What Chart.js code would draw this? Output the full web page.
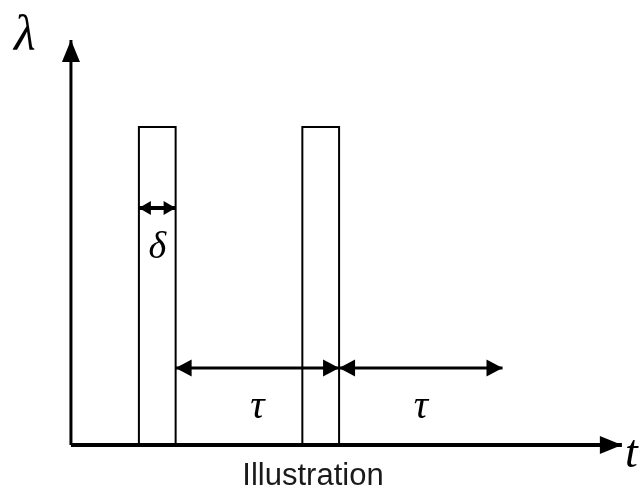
<!DOCTYPE html>
<html>
<head>
<meta charset="utf-8">
<script src="https://cdn.jsdelivr.net/npm/chart.js@4"></script>
<style>
html,body{margin:0;padding:0;background:#fff;}
#wrap{width:643px;height:492px;}
</style>
</head>
<body>
<div id="wrap"><canvas id="c"></canvas></div>
<script>
// Data (time units on x, intensity λ on y)
const pulseStarts = [1.85, 6.3];
const pulseWidth = 1.0;          // δ
const pulseHeight = 0.785;
const period = 4.45;             // τ
const deltaArrowY = 0.585;
const tauArrowY = 0.19;
const tauArrowStarts = [2.85, 7.3];
const axisMaxX = 15;
const axisMaxY = 1;
const scaleMinX = -1.85;
const scaleMaxX = 15.03;
const titleText = "Illustration";
const yLabel = "λ";
const xLabel = "t";
const deltaLabel = "δ";
const tauLabel = "τ";

const black = '#000';
const datasets = [];
pulseStarts.forEach(s => {
  datasets.push({
    data: [{x:s,y:0},{x:s,y:pulseHeight},{x:s+pulseWidth,y:pulseHeight},{x:s+pulseWidth,y:0}],
    borderColor: black, borderWidth: 2, pointRadius: 0, tension: 0, fill: false
  });
});
// δ arrow
datasets.push({
  data: [{x:pulseStarts[0],y:deltaArrowY},{x:pulseStarts[0]+pulseWidth,y:deltaArrowY}],
  borderColor: black, borderWidth: 4, pointRadius: 0, fill:false, arrow: 'both', head: 12, headW: 7
});
tauArrowStarts.forEach(s => {
  datasets.push({
    data: [{x:s,y:tauArrowY},{x:s+period,y:tauArrowY}],
    borderColor: black, borderWidth: 3, pointRadius: 0, fill:false, arrow: 'both', head: 16, headW: 8.5
  });
});
// axes
datasets.push({ data:[{x:0,y:0},{x:0,y:axisMaxY}], borderColor: black, borderWidth: 3, pointRadius:0, fill:false, arrow:'end', head: 22, headW: 9 });
datasets.push({ data:[{x:0,y:0},{x:axisMaxX,y:0}], borderColor: black, borderWidth: 4, pointRadius:0, fill:false, arrow:'end', head: 22, headW: 9 });

function head(ctx, tipX, tipY, dx, dy, len, w) {
  const bx = tipX - dx*len, by = tipY - dy*len;
  const px = -dy, py = dx;
  ctx.beginPath();
  ctx.moveTo(tipX, tipY);
  ctx.lineTo(bx + px*w, by + py*w);
  ctx.lineTo(bx - px*w, by - py*w);
  ctx.closePath();
  ctx.fill();
}

const arrowPlugin = {
  id: 'arrows',
  afterDatasetsDraw(chart) {
    const ctx = chart.ctx;
    const xs = chart.scales.x, ys = chart.scales.y;
    ctx.save();
    ctx.fillStyle = black;
    chart.data.datasets.forEach(ds => {
      if (!ds.arrow) return;
      const a = ds.data[0], b = ds.data[ds.data.length-1];
      const ax = xs.getPixelForValue(a.x), ay = ys.getPixelForValue(a.y);
      const bx = xs.getPixelForValue(b.x), by = ys.getPixelForValue(b.y);
      const L = Math.hypot(bx-ax, by-ay);
      const dx = (bx-ax)/L, dy = (by-ay)/L;
      const len = ds.head, w = ds.headW || ds.head*0.5;
      head(ctx, bx, by, dx, dy, len, w);
      if (ds.arrow === 'both') head(ctx, ax, ay, -dx, -dy, len, w);
    });
    // labels
    ctx.fillStyle = black;
    ctx.textBaseline = 'alphabetic';
    ctx.textAlign = 'center';
    ctx.font = 'italic 50px "Liberation Serif", "DejaVu Serif", serif';
    ctx.fillText(yLabel, xs.getPixelForValue(0) - 46, ys.getPixelForValue(axisMaxY) + 10);
    ctx.textAlign = 'left';
    ctx.font = 'italic 46px "Liberation Serif", "DejaVu Serif", serif';
    ctx.fillText(xLabel, xs.getPixelForValue(axisMaxX) + 3, ys.getPixelForValue(0) + 22);
    ctx.textAlign = 'center';
    ctx.font = 'italic 38px "Liberation Serif", "DejaVu Serif", serif';
    ctx.fillText(deltaLabel, xs.getPixelForValue(pulseStarts[0] + pulseWidth/2), ys.getPixelForValue(deltaArrowY) + 50);
    ctx.font = 'italic 40px "Liberation Serif", "DejaVu Serif", serif';
    tauArrowStarts.forEach(s => {
      ctx.fillText(tauLabel, xs.getPixelForValue(s + period/2), ys.getPixelForValue(tauArrowY) + 50);
    });
    ctx.restore();
  }
};

new Chart(document.getElementById('c'), {
  type: 'line',
  data: { datasets },
  options: {
    responsive: true,
    maintainAspectRatio: false,
    animation: false,
    clip: false,
    layout: { padding: { left: 3, right: 20, top: 40, bottom: 0 } },
    scales: {
      x: { type: 'linear', min: scaleMinX, max: scaleMaxX, display: false },
      y: { type: 'linear', min: 0, max: axisMaxY, display: false }
    },
    plugins: {
      legend: { display: false },
      tooltip: { enabled: false },
      title: {
        display: true, position: 'bottom', text: titleText, color: '#1a1a1a',
        font: { family: '"Liberation Sans", Arial, sans-serif', size: 31, weight: 'normal', lineHeight: 1.0 },
        padding: { top: 16, bottom: 0 }
      }
    }
  },
  plugins: [arrowPlugin]
});
</script>
</body>
</html>
